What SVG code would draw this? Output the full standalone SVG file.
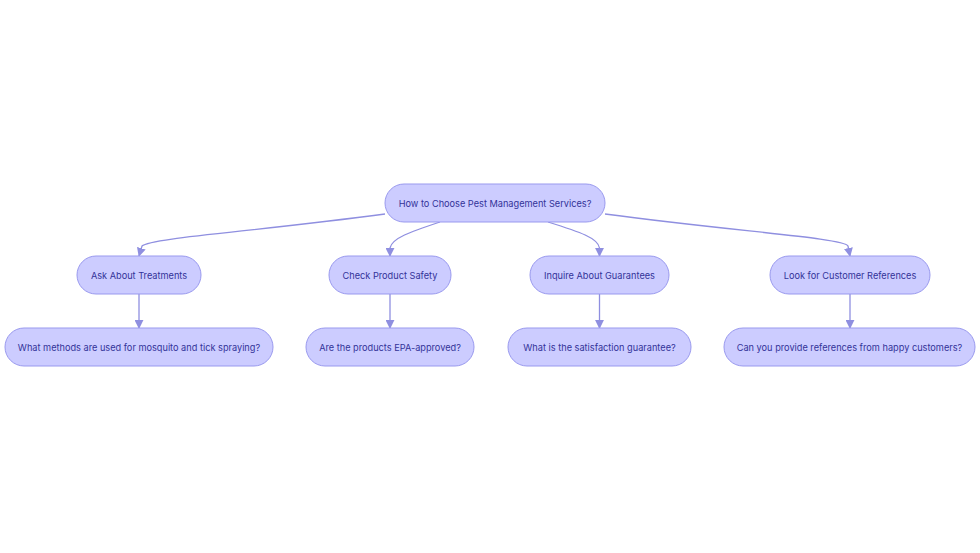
<svg xmlns="http://www.w3.org/2000/svg" width="980" height="553" viewBox="0 0 980 553">
<style>
.n rect{fill:#ccccff;stroke:#9999ee;stroke-width:1}
.n text{font-family:Inter,"Liberation Sans",sans-serif;font-size:9.2px;fill:#333399;text-anchor:middle;dominant-baseline:central}
.e path{fill:none;stroke:#8f8fe0;stroke-width:1.3}
</style>
<defs>
<marker id="ah" viewBox="0 0 10 10" refX="9" refY="5" markerWidth="9" markerHeight="9" markerUnits="userSpaceOnUse" orient="auto">
<path d="M0,0L10,5L0,10z" fill="#8f8fe0"/>
</marker>
</defs>
<rect width="980" height="553" fill="#ffffff"/>
<g class="e">
<path d="M385,214 C250,232 150,238 142,246 L139,256" marker-end="url(#ah)"/>
<path d="M440,222 C410,232 392,238 390,248 L390,256" marker-end="url(#ah)"/>
<path d="M548,222 C580,232 598,238 599.5,248 L599.5,256" marker-end="url(#ah)"/>
<path d="M605,214 C740,232 845,238 848,246 L850,256" marker-end="url(#ah)"/>
<path d="M139,294 L139,328" marker-end="url(#ah)"/>
<path d="M390,294 L390,328" marker-end="url(#ah)"/>
<path d="M599.5,294 L599.5,328" marker-end="url(#ah)"/>
<path d="M850,294 L850,328" marker-end="url(#ah)"/>
</g>
<g id="root" class="n"><rect x="385" y="184" width="220" height="38" rx="19"/><text x="495" y="203">How to Choose Pest Management Services?</text></g>
<g id="a1" class="n"><rect x="77" y="256" width="124" height="38" rx="19"/><text x="139" y="275">Ask About Treatments</text></g>
<g id="b1" class="n"><rect x="329" y="256" width="122" height="38" rx="19"/><text x="390" y="275">Check Product Safety</text></g>
<g id="c1" class="n"><rect x="530" y="256" width="139" height="38" rx="19"/><text x="599.5" y="275">Inquire About Guarantees</text></g>
<g id="d1" class="n"><rect x="770" y="256" width="160" height="38" rx="19"/><text x="850" y="275">Look for Customer References</text></g>
<g id="a2" class="n"><rect x="5" y="328" width="268" height="38" rx="19"/><text x="139" y="347">What methods are used for mosquito and tick spraying?</text></g>
<g id="b2" class="n"><rect x="306" y="328" width="168" height="38" rx="19"/><text x="390" y="347">Are the products EPA-approved?</text></g>
<g id="c2" class="n"><rect x="508" y="328" width="183" height="38" rx="19"/><text x="599.5" y="347">What is the satisfaction guarantee?</text></g>
<g id="d2" class="n"><rect x="724" y="328" width="251" height="38" rx="19"/><text x="849.5" y="347">Can you provide references from happy customers?</text></g>
</svg>
